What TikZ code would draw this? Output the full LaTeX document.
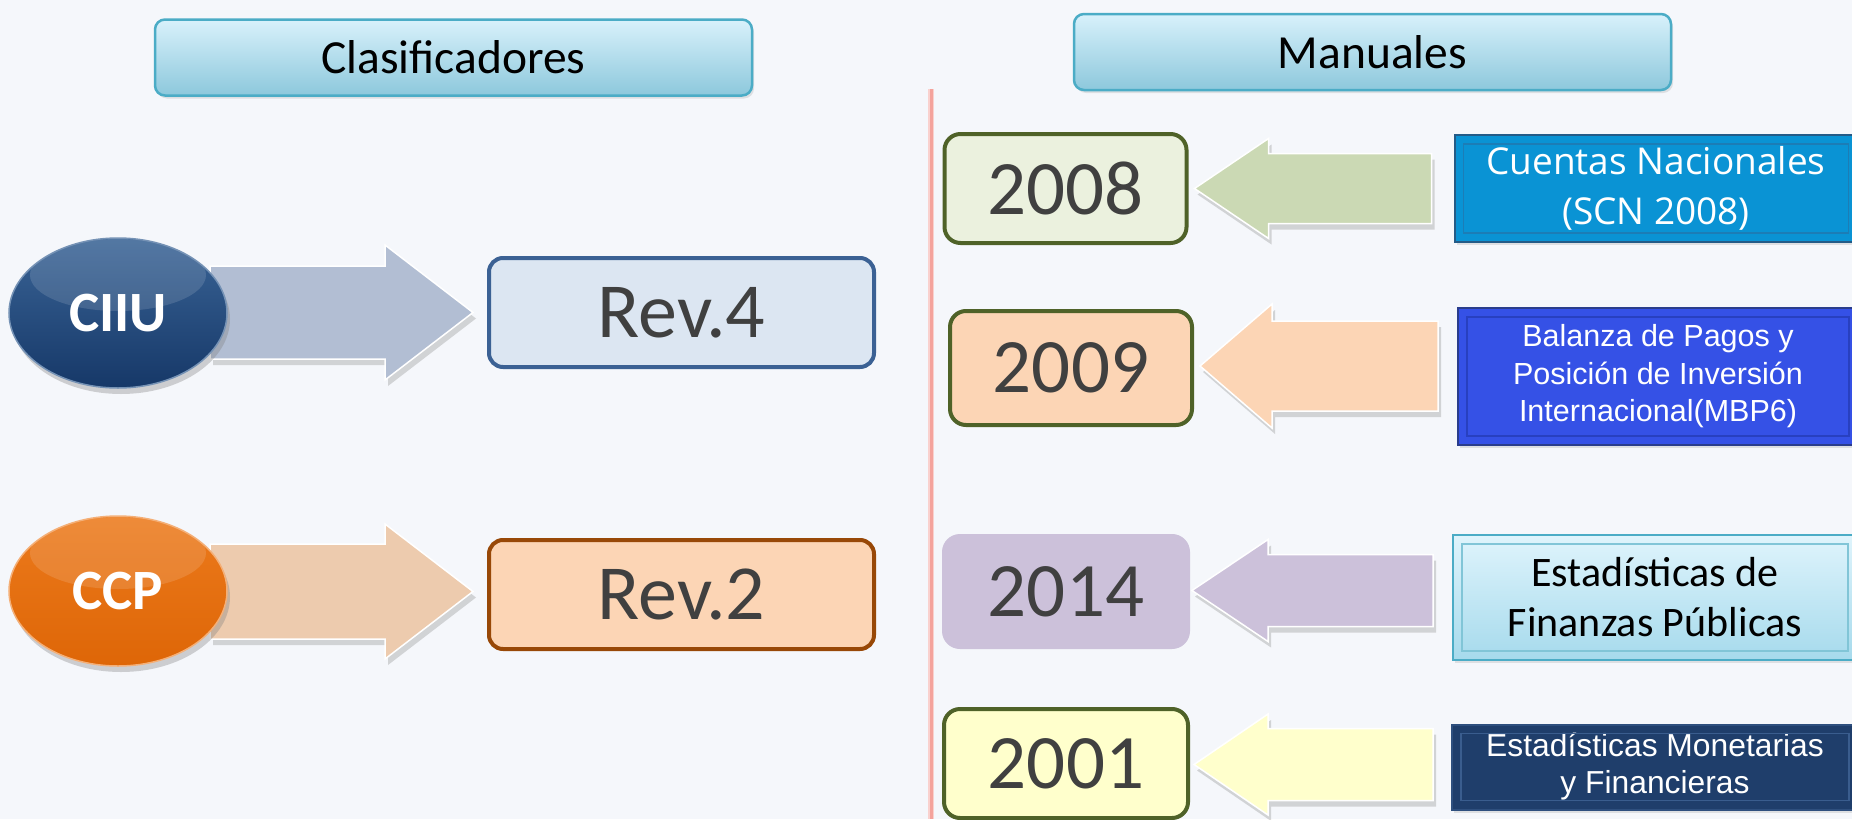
\documentclass[tikz,border=0pt]{standalone}
\usepackage{fontspec}
\setmainfont{Carlito}
\newfontfamily\arialf{Liberation Sans}
\newfontfamily\osans{Open Sans}
\usetikzlibrary{calc,shadows,shapes.geometric}
\pgfdeclarelayer{back}
\pgfsetlayers{back,main}

\definecolor{bgc}{HTML}{F5F7FB}
\definecolor{hdrtop}{HTML}{D8F1FB}
\definecolor{hdrbot}{HTML}{8DC8DC}
\definecolor{hdrline}{HTML}{4BACC6}
\definecolor{txtgray}{HTML}{404040}
\definecolor{oliveb}{HTML}{4F6228}
\definecolor{rev4fill}{HTML}{DCE6F2}
\definecolor{rev4line}{HTML}{3B6194}
\definecolor{rev2fill}{HTML}{FCD5B5}
\definecolor{rev2line}{HTML}{984807}
\definecolor{ciiutop}{HTML}{3A6496}
\definecolor{ciiubot}{HTML}{163868}
\definecolor{ccptop}{HTML}{EC7A1C}
\definecolor{ccpbot}{HTML}{DE6607}
\definecolor{ciiuarr}{HTML}{B2BED3}
\definecolor{ccparr}{HTML}{EDCBAE}
\definecolor{y8fill}{HTML}{EBF1DE}
\definecolor{y8arr}{HTML}{CBD9B4}
\definecolor{y9fill}{HTML}{FCD5B5}
\definecolor{y14fill}{HTML}{CCC1DA}
\definecolor{y01fill}{HTML}{FFFFCC}
\definecolor{cnfill}{HTML}{0A93D4}
\definecolor{cnline}{HTML}{245B87}
\definecolor{cnin}{HTML}{1C7DB6}
\definecolor{bpfill}{HTML}{3551E6}
\definecolor{bpline}{HTML}{2A3D8C}
\definecolor{bpin}{HTML}{2840C0}
\definecolor{eftop}{HTML}{DFF4FC}
\definecolor{efbot}{HTML}{A6DAEC}
\definecolor{efline}{HTML}{4BACC6}
\definecolor{emfill}{HTML}{1F3E6B}
\definecolor{emline}{HTML}{2E4F7E}
\definecolor{emin}{HTML}{3A5D8E}
\definecolor{vline}{HTML}{F4A39C}

% #1 start, #2 tip, #3 shaft half, #4 head half, #5 signed head length, #6 style
\newcommand\blockarrow[6]{%
  \path[#6] let \p1=(#1), \p2=(#2) in
   ({\x1},{\y2+#3}) -- ({\x2-(#5)},{\y2+#3}) -- ({\x2-(#5)},{\y2+#4}) -- (\x2,\y2)
   -- ({\x2-(#5)},{\y2-#4}) -- ({\x2-(#5)},{\y2-#3}) -- ({\x1},{\y2-#3}) -- cycle;}

\begin{document}
\begin{tikzpicture}[x=1pt,y=-1pt,
  hdr/.style={draw=hdrline, line width=2.5pt, rounded corners=10pt,
    top color=hdrtop, bottom color=hdrbot, minimum width=597pt,
    minimum height=76pt, inner sep=0pt, font=\fontsize{47.5}{52}\selectfont,
    drop shadow={opacity=0.2,shadow xshift=2pt,shadow yshift=-3pt}},
  revbox/.style={line width=4pt, rounded corners=14pt, minimum width=385pt,
    minimum height=109pt, inner sep=0pt, text=txtgray,
    font=\fontsize{78}{84}\selectfont},
  yearbox/.style={line width=4pt, rounded corners=16pt, draw=oliveb,
    minimum width=242pt, minimum height=109pt, inner sep=0pt, text=txtgray,
    font=\fontsize{77}{84}\selectfont},
  badge/.style={ellipse, minimum width=218pt, minimum height=150pt,
    inner sep=0pt, text=white, font=\bfseries\fontsize{57}{62}\selectfont,
    line width=1.5pt,
    drop shadow={opacity=0.35,shadow xshift=3pt,shadow yshift=-6pt},
    path picture={\fill[white,opacity=0.13] ($(path picture bounding box.center)+(0,-38)$) ellipse [x radius=88pt, y radius=36pt];}},
  manbox/.style={rectangle, line width=2pt, inner sep=0pt, align=center,
    drop shadow={opacity=0.2,shadow xshift=2pt,shadow yshift=-3pt}},
  arrowfill/.style={draw=white, line width=1.5pt,
    drop shadow={opacity=0.3,shadow xshift=3pt,shadow yshift=-6pt}},
  bevel/.style={line width=1.5pt}]

\useasboundingbox (0,0) rectangle (1852,819);

% headers
\node[hdr] (clas) at (453.5,57.5) {Clasificadores};
\node[hdr] (man) at (1372.5,52) {Manuales};

% left side
\node[badge, top color=ciiutop, bottom color=ciiubot, draw=ciiutop!70!white] (ciiu) at (118,313) {CIIU};
\node[badge, top color=ccptop, bottom color=ccpbot, draw=ccptop!60!white] (ccp) at (118,591) {CCP};
\node[revbox, fill=rev4fill, draw=rev4line] (rev4) at (681.5,312.5) {Rev.4};
\node[revbox, fill=rev2fill, draw=rev2line] (rev2) at (681.5,594.5) {Rev.2};

% year boxes
\node[yearbox, fill=y8fill] (y2008) at (1065.5,188.5) {2008};
\node[yearbox, fill=y9fill, minimum height=114pt] (y2009) at (1071,368) {2009};
\node[yearbox, fill=y14fill, draw=y14fill, minimum width=244pt, minimum height=111pt] (y2014) at (1066,591.5) {2014};
\node[yearbox, fill=y01fill, minimum width=244pt] (y2001) at (1066,763.5) {2001};

% manual boxes
\node[manbox, fill=cnfill, draw=cnline, minimum width=403pt, minimum height=107pt,
  text=white, font=\osans\fontsize{37}{50}\selectfont] (cn) at (1656,188.5)
  {Cuentas Nacionales\\(SCN 2008)};
\draw[bevel, cnin] ([shift={(10,10)}]cn.north west) rectangle ([shift={(-10,-10)}]cn.south east);
\node[manbox, fill=bpfill, draw=bpline, minimum width=400pt, minimum height=137pt,
  text=white, font=\arialf\fontsize{30.5}{37.5}\selectfont] (bp) at (1658,376.5)
  {Balanza de Pagos y\\Posición de Inversión\\Internacional(MBP6)};
\draw[bevel, bpin] ([shift={(10,10)}]bp.north west) rectangle ([shift={(-10,-10)}]bp.south east);
\node[manbox, top color=eftop, bottom color=efbot, draw=efline, minimum width=404pt,
  minimum height=125pt, font=\fontsize{42}{50}\selectfont] (ef) at (1655,597.5)
  {Estadísticas de\\Finanzas Públicas};
\draw[bevel, efline!70!white] ([shift={(10,10)}]ef.north west) rectangle ([shift={(-10,-10)}]ef.south east);
\node[manbox, fill=emfill, draw=emline, minimum width=406pt, minimum height=85pt,
  text=white, font=\arialf\fontsize{31.8}{37}\selectfont] (em) at (1655,767)
  {Estadísticas Monetarias\\y Financieras};
\draw[bevel, emin] ([shift={(10,10)}]em.north west) rectangle ([shift={(-10,-10)}]em.south east);

% background layer
\begin{pgfonlayer}{back}
\fill[bgc] (0,0) rectangle (1852,819);
\coordinate (ltop) at (931,89);
\coordinate (lbot) at (931,819);
\draw[vline!50!white, line width=6pt] (ltop) -- (lbot);
\draw[vline, line width=3pt] (ltop) -- (lbot);
\blockarrow{$(ciiu.center)+(92,0)$}{$(rev4.west)+(-14,0)$}{46.5pt}{67.5pt}{88pt}{fill=ciiuarr, arrowfill}
\blockarrow{$(ccp.center)+(92,0)$}{$(rev2.west)+(-14,-3)$}{47.5pt}{67.5pt}{88pt}{fill=ccparr, arrowfill}
\blockarrow{$(cn.west)+(-22,0)$}{$(y2008.east)+(6,0)$}{35pt}{50pt}{-74pt}{fill=y8arr, arrowfill}
\blockarrow{$(bp.west)+(-19,0)$}{$(y2009.east)+(6,-2)$}{45pt}{62pt}{-72pt}{fill=y9fill, arrowfill}
\blockarrow{$(ef.west)+(-19,0)$}{$(y2014.east)+(2,-1)$}{36pt}{51pt}{-76pt}{fill=y14fill, arrowfill}
\blockarrow{$(em.west)+(-18,0)$}{$(y2001.east)+(4,1)$}{36pt}{50.5pt}{-74pt}{fill=y01fill, arrowfill}
\end{pgfonlayer}
\end{tikzpicture}
\end{document}
